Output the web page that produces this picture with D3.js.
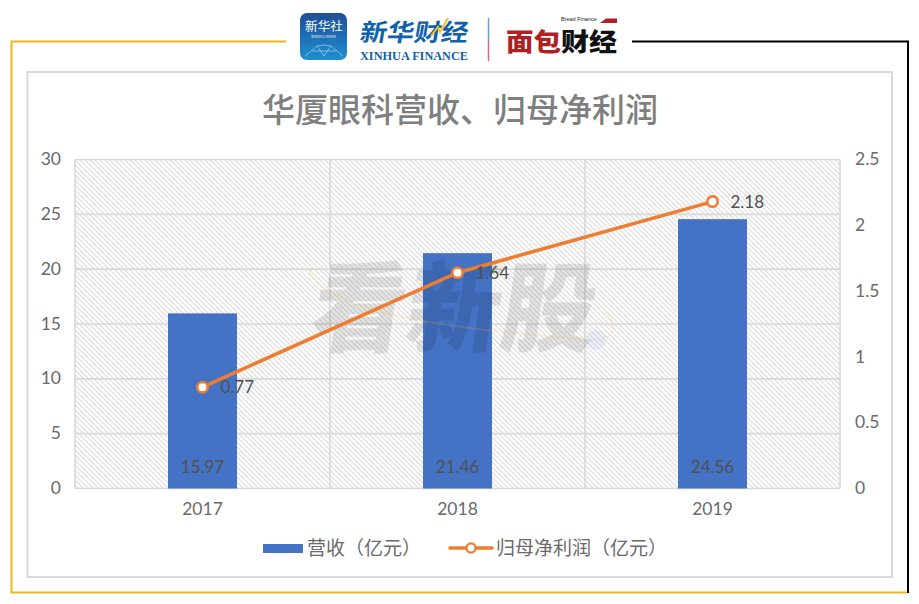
<!DOCTYPE html>
<html>
<head>
<meta charset="utf-8">
<script src="https://cdnjs.cloudflare.com/ajax/libs/d3/7.8.5/d3.min.js"></script>
<style>
html, body { margin: 0; padding: 0; background: #fff; }
svg { display: block; }
text { font-family: "Noto Sans CJK SC", "Liberation Sans", sans-serif; }
.num { font-family: Lato, "Liberation Sans", sans-serif; }
</style>
</head>
<body>
<svg id="chart" width="919" height="604"></svg>
<script>
var years = ['2017', '2018', '2019'];
var revenue = [15.97, 21.46, 24.56];
var profit = [0.77, 1.64, 2.18];
var leftTicks = [0, 5, 10, 15, 20, 25, 30];
var rightTicks = [0, 0.5, 1, 1.5, 2, 2.5];

var config = {
    grid: '#d9d9d9',
    text: '#6a6a6a',
    label: '#505050',
    bar: '#4472c4',
    line: '#ed7d31',
    gold: '#f0b71c'
};

var svg = d3.select('#chart');

// hatch fill of the plot area
var pattern = svg.append('defs').append('pattern')
    .attr('id', 'hatch')
    .attr('patternUnits', 'userSpaceOnUse')
    .attr('width', 5).attr('height', 5);
pattern.append('path')
    .attr('d', 'M-1,-1L6,6M-1,4L1,6M4,-1L6,1')
    .attr('stroke', '#e0e0e0').attr('stroke-width', 1.3)
    .attr('fill', 'none');

var grad = svg.select('defs').append('linearGradient')
    .attr('id', 'badge').attr('x1', 0).attr('y1', 0).attr('x2', 0).attr('y2', 1);
grad.append('stop').attr('offset', '0%').attr('stop-color', '#1f4e96');
grad.append('stop').attr('offset', '100%').attr('stop-color', '#1e8fd0');

// outer frame
var frame = svg.append('g').attr('fill', 'none');
frame.append('path').attr('d', 'M286,41.5H11.5V592.5H908')
    .attr('stroke', config.gold).attr('stroke-width', 2);
frame.append('path').attr('d', 'M632,41.5H908V593')
    .attr('stroke', '#000').attr('stroke-width', 2);

// card
svg.append('rect')
    .attr('x', 27.5).attr('y', 72).attr('width', 864.5).attr('height', 505)
    .attr('fill', '#fff').attr('stroke', config.grid).attr('stroke-width', 2);

// header logos
var logo = svg.append('g');
logo.append('rect').attr('x', 300).attr('y', 13).attr('width', 47).attr('height', 47).attr('rx', 7)
    .attr('fill', 'url(#badge)');
logo.append('text').attr('x', 305).attr('y', 31).attr('font-size', 12)
    .attr('textLength', 38).attr('lengthAdjust', 'spacingAndGlyphs')
    .attr('fill', '#fff').text('新华社');
logo.append('text').attr('x', 323.5).attr('y', 37.5).attr('text-anchor', 'middle')
    .attr('font-size', 3.6).attr('fill', '#fff')
    .style('font-family', '"Liberation Serif", serif').text('XINHUA NEWS');
logo.append('path').attr('d', 'M305,56L317,46L324,45L331,46L343,56M317,46L324,56L331,46M312,51H336')
    .attr('fill', 'none').attr('stroke', '#bfe3f7').attr('stroke-width', 0.6);
logo.append('text')
    .attr('transform', 'translate(359,41) skewX(-10)')
    .attr('font-size', 24).attr('font-weight', 700)
    .attr('fill', '#0f62ab').attr('textLength', 108).attr('lengthAdjust', 'spacingAndGlyphs')
    .text('新华财经');
logo.append('path').attr('d', 'M431,36L438,27L440,32L448,18')
    .attr('fill', 'none').attr('stroke', '#f3c12e').attr('stroke-width', 2);
logo.append('text').attr('x', 360).attr('y', 59.5).attr('font-size', 12.5).attr('font-weight', 700)
    .attr('fill', '#0f62ab').attr('textLength', 108).attr('lengthAdjust', 'spacingAndGlyphs')
    .style('font-family', '"Liberation Serif", serif').text('XINHUA FINANCE');
logo.append('path').attr('d', 'M488.5,18V41').attr('stroke', '#6d9ac6').attr('stroke-width', 1.5);
logo.append('path').attr('d', 'M488.5,41V61').attr('stroke', '#cf6d74').attr('stroke-width', 1.5);
logo.append('text').attr('x', 506).attr('y', 51).attr('font-size', 25).attr('font-weight', 900)
    .attr('fill', '#b01f24').attr('textLength', 55).attr('lengthAdjust', 'spacingAndGlyphs').text('面包');
logo.append('text').attr('x', 561).attr('y', 51).attr('font-size', 25).attr('font-weight', 900)
    .attr('fill', '#111').attr('textLength', 56).attr('lengthAdjust', 'spacingAndGlyphs').text('财经');
logo.append('text').attr('x', 561).attr('y', 20.5).attr('font-size', 5.5).attr('fill', '#222')
    .style('font-family', '"Liberation Sans", sans-serif').text('Bread Finance');
logo.append('path').attr('d', 'M600,23L606,18.5H617V23Z').attr('fill', '#b01f24');

// title
svg.append('text')
    .attr('x', 460).attr('y', 122).attr('text-anchor', 'middle')
    .attr('font-size', 33).attr('font-weight', 500).attr('fill', '#7f7f7f')
    .text('华厦眼科营收、归母净利润');

// scales
var x = d3.scaleBand().domain(years).range([75, 840]);
var yLeft = d3.scaleLinear().domain([0, 30]).range([488.5, 159.5]);
var yRight = d3.scaleLinear().domain([0, 2.5]).range([488.5, 159.5]);
var barWidth = 69;

// plot area
svg.append('rect')
    .attr('x', 75).attr('y', 159.5).attr('width', 765).attr('height', 329)
    .attr('fill', 'url(#hatch)');

var gridV = d3.range(years.length + 1).map(function(i) { return 75 + i * x.step(); });
svg.append('g').selectAll('line').data(gridV).enter().append('line')
    .attr('x1', function(d) { return d; }).attr('x2', function(d) { return d; })
    .attr('y1', 159.5).attr('y2', 488.5)
    .attr('stroke', config.grid).attr('stroke-width', 1.6);
svg.append('g').selectAll('line').data(leftTicks).enter().append('line')
    .attr('x1', 75).attr('x2', 840)
    .attr('y1', function(d) { return yLeft(d); }).attr('y2', function(d) { return yLeft(d); })
    .attr('stroke', config.grid).attr('stroke-width', 1.6);

// bars
svg.append('g').selectAll('rect').data(years).enter().append('rect')
    .attr('x', function(d) { return x(d) + x.bandwidth() / 2 - barWidth / 2; })
    .attr('y', function(d, i) { return yLeft(revenue[i]); })
    .attr('width', barWidth)
    .attr('height', function(d, i) { return yLeft(0) - yLeft(revenue[i]); })
    .attr('fill', config.bar);

// watermark sits over the bars
var mark = svg.append('g').style('pointer-events', 'none');
mark.append('text')
    .attr('transform', 'translate(308,344) skewX(-8)')
    .attr('font-size', 98).attr('font-weight', 900)
    .attr('fill', '#000').attr('fill-opacity', 0.1)
    .attr('textLength', 284).attr('lengthAdjust', 'spacingAndGlyphs')
    .text('看新股');
mark.append('path')
    .attr('d', 'M308,268C330,320 480,330 590,340C615,342 620,325 605,312')
    .attr('fill', 'none').attr('stroke', '#f3c14b').attr('stroke-opacity', 0.16).attr('stroke-width', 2);
mark.append('circle').attr('cx', 596).attr('cy', 340).attr('r', 10)
    .attr('fill', '#8fb8e8').attr('fill-opacity', 0.18);

// axis labels
var tickStyle = function(sel) {
    sel.attr('class', 'num').attr('font-size', 17.5).attr('fill', config.text);
};
svg.append('g').selectAll('text').data(leftTicks).enter().append('text')
    .call(tickStyle)
    .attr('x', 61).attr('text-anchor', 'end').attr('dy', '0.35em')
    .attr('y', function(d) { return yLeft(d) - 0.5; })
    .text(function(d) { return d; });
svg.append('g').selectAll('text').data(rightTicks).enter().append('text')
    .call(tickStyle)
    .attr('x', 855).attr('dy', '0.35em')
    .attr('y', function(d) { return yRight(d) - 0.5; })
    .text(function(d) { return d; });
svg.append('g').selectAll('text').data(years).enter().append('text')
    .call(tickStyle)
    .attr('text-anchor', 'middle').attr('y', 515)
    .attr('x', function(d) { return x(d) + x.bandwidth() / 2; })
    .text(function(d) { return d; });

// bar labels
svg.append('g').selectAll('text').data(revenue).enter().append('text')
    .attr('class', 'num').attr('font-size', 17).attr('fill', config.label)
    .attr('text-anchor', 'middle').attr('y', 473)
    .attr('x', function(d, i) { return x(years[i]) + x.bandwidth() / 2; })
    .text(function(d) { return d.toFixed(2); });

// line
var lineGen = d3.line()
    .x(function(d, i) { return x(years[i]) + x.bandwidth() / 2; })
    .y(function(d) { return yRight(d); });
svg.append('path').datum(profit)
    .attr('d', lineGen)
    .attr('fill', 'none').attr('stroke', config.line).attr('stroke-width', 3.6)
    .attr('stroke-linecap', 'round');
svg.append('g').selectAll('circle').data(profit).enter().append('circle')
    .attr('cx', function(d, i) { return x(years[i]) + x.bandwidth() / 2; })
    .attr('cy', function(d) { return yRight(d); })
    .attr('r', 5.2)
    .attr('fill', '#fff').attr('stroke', config.line).attr('stroke-width', 2.6);
svg.append('g').selectAll('text').data(profit).enter().append('text')
    .attr('class', 'num').attr('font-size', 17).attr('fill', config.label)
    .attr('x', function(d, i) { return x(years[i]) + x.bandwidth() / 2 + 18; })
    .attr('y', function(d) { return yRight(d) + 6; })
    .text(function(d) { return d.toFixed(2); });

// legend
var legend = svg.append('g');
legend.append('rect').attr('x', 263).attr('y', 544).attr('width', 40).attr('height', 9).attr('fill', config.bar);
legend.append('text').attr('x', 307).attr('y', 554.5).attr('font-size', 19).attr('fill', config.text)
    .text('营收（亿元）');
legend.append('line').attr('x1', 450).attr('x2', 492).attr('y1', 548).attr('y2', 548)
    .attr('stroke', config.line).attr('stroke-width', 3.6).attr('stroke-linecap', 'round');
legend.append('circle').attr('cx', 471).attr('cy', 548).attr('r', 4.6)
    .attr('fill', '#fff').attr('stroke', config.line).attr('stroke-width', 2.4);
legend.append('text').attr('x', 496).attr('y', 554.5).attr('font-size', 19).attr('fill', config.text)
    .text('归母净利润（亿元）');
</script>
</body>
</html>
